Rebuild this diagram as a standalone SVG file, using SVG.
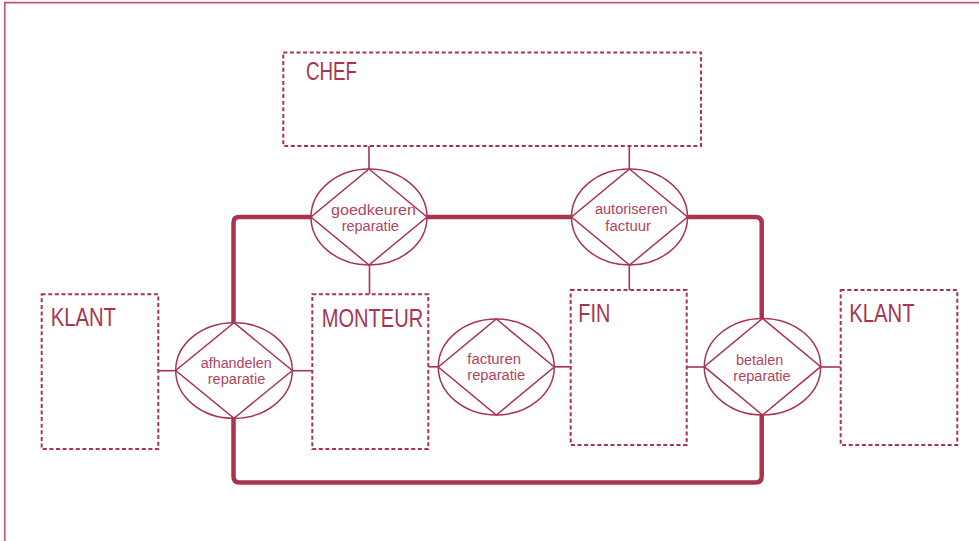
<svg xmlns="http://www.w3.org/2000/svg" width="979" height="541" viewBox="0 0 979 541">
  <style>
    .frame { fill: none; stroke: #bf5473; stroke-width: 1.6; }
    .box { fill: none; stroke: #a8354f; stroke-width: 2; stroke-dasharray: 4 2.6; }
    .shape { fill: none; stroke: #a8354f; stroke-width: 1.5; }
    .thin { fill: none; stroke: #a8354f; stroke-width: 1.6; }
    .thick { fill: none; stroke: #a8354f; stroke-width: 4.5; stroke-linejoin: round; }
    .big { font-family: "Liberation Sans", Arial, sans-serif; font-size: 25px; fill: #a8354f; }
    .small { font-family: "Liberation Sans", Arial, sans-serif; font-size: 15.5px; fill: #b04560; text-anchor: middle; }
  </style>

  <!-- page frame -->
  <path class="frame" d="M4.8,541 V2.6 H979"/>

  <!-- connectors -->
  <g id="connectors">
    <!-- thick loop joining the four relation shapes -->
    <path class="thick" d="M311,217 H239 Q233.5,217 233.5,223 V322.7"/>
    <path class="thick" d="M427,217 H572"/>
    <path class="thick" d="M687,217 H755.5 Q761.7,217 761.7,223 V318.5"/>
    <path class="thick" d="M761.7,415 V476.5 Q761.7,482.5 755.5,482.5 H239.5 Q233.5,482.5 233.5,476.5 V418.3"/>
    <!-- thin links between entities and relations -->
    <path class="thin" d="M369,146 V169"/>
    <path class="thin" d="M369.5,265 V294"/>
    <path class="thin" d="M629.3,146 V169"/>
    <path class="thin" d="M629.3,265 V290"/>
    <path class="thin" d="M158.3,370.7 H175.7"/>
    <path class="thin" d="M292.3,370.7 H312.3"/>
    <path class="thin" d="M428.3,366.8 H438.3"/>
    <path class="thin" d="M554.3,366.8 H570.7"/>
    <path class="thin" d="M686.7,367 H704.3"/>
    <path class="thin" d="M820.7,367 H840.7"/>
  </g>

  <!-- entities -->
  <g id="chef">
    <rect class="box" x="283.3" y="52.5" width="417.7" height="93.5"/>
    <text class="big" x="306" y="80" textLength="51" lengthAdjust="spacingAndGlyphs">CHEF</text>
  </g>
  <g id="klant-links">
    <rect class="box" x="41.7" y="294.3" width="116.6" height="154.7"/>
    <text class="big" x="50.7" y="326" textLength="65.3" lengthAdjust="spacingAndGlyphs">KLANT</text>
  </g>
  <g id="monteur">
    <rect class="box" x="312.3" y="294.3" width="116" height="154.7"/>
    <text class="big" x="321.7" y="326.7" textLength="101.6" lengthAdjust="spacingAndGlyphs">MONTEUR</text>
  </g>
  <g id="fin">
    <rect class="box" x="570.7" y="290" width="116" height="155"/>
    <text class="big" x="578.3" y="321.7" textLength="32" lengthAdjust="spacingAndGlyphs">FIN</text>
  </g>
  <g id="klant-rechts">
    <rect class="box" x="840.7" y="290" width="116.6" height="155"/>
    <text class="big" x="849.3" y="321.7" textLength="65.3" lengthAdjust="spacingAndGlyphs">KLANT</text>
  </g>

  <!-- relations: ellipse with inscribed diamond -->
  <g id="goedkeuren-reparatie">
    <ellipse class="shape" cx="369" cy="217" rx="58" ry="48"/>
    <path class="shape" d="M369,169 L427,217 L369,265 L311,217 Z"/>
    <text class="small" x="373.5" y="215" textLength="85" lengthAdjust="spacingAndGlyphs">goedkeuren</text>
    <text class="small" x="370.3" y="230.7" textLength="57.3" lengthAdjust="spacingAndGlyphs">reparatie</text>
  </g>
  <g id="autoriseren-factuur">
    <ellipse class="shape" cx="629.5" cy="217" rx="58" ry="48"/>
    <path class="shape" d="M629.5,169 L687.5,217 L629.5,265 L571.5,217 Z"/>
    <text class="small" x="631.3" y="214" textLength="72.7" lengthAdjust="spacingAndGlyphs">autoriseren</text>
    <text class="small" x="628.2" y="230.7" textLength="45.7" lengthAdjust="spacingAndGlyphs">factuur</text>
  </g>
  <g id="afhandelen-reparatie">
    <ellipse class="shape" cx="234" cy="370.5" rx="58.3" ry="47.8"/>
    <path class="shape" d="M234,322.7 L292.3,370.5 L234,418.3 L175.7,370.5 Z"/>
    <text class="small" x="236.2" y="367.7" textLength="71" lengthAdjust="spacingAndGlyphs">afhandelen</text>
    <text class="small" x="236.5" y="384.3" textLength="57.6" lengthAdjust="spacingAndGlyphs">reparatie</text>
  </g>
  <g id="facturen-reparatie">
    <ellipse class="shape" cx="496.3" cy="367" rx="58" ry="48"/>
    <path class="shape" d="M496.3,319 L554.3,367 L496.3,415 L438.3,367 Z"/>
    <text class="small" x="494.2" y="364" textLength="53.7" lengthAdjust="spacingAndGlyphs">facturen</text>
    <text class="small" x="496.3" y="380" textLength="58" lengthAdjust="spacingAndGlyphs">reparatie</text>
  </g>
  <g id="betalen-reparatie">
    <ellipse class="shape" cx="762.5" cy="366.7" rx="58.2" ry="48.3"/>
    <path class="shape" d="M762.5,318.4 L820.7,366.7 L762.5,415 L704.3,366.7 Z"/>
    <text class="small" x="759.7" y="365" textLength="47.3" lengthAdjust="spacingAndGlyphs">betalen</text>
    <text class="small" x="762" y="381" textLength="57.4" lengthAdjust="spacingAndGlyphs">reparatie</text>
  </g>
</svg>
